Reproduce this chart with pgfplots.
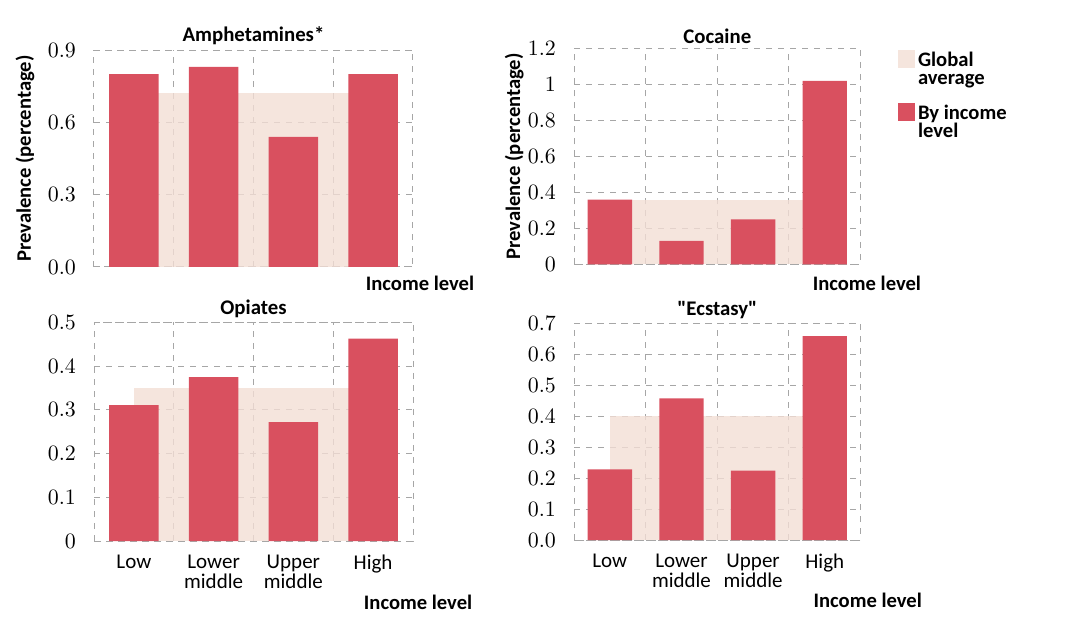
\documentclass[border=0pt]{standalone}
\usepackage{pgfplots}
\pgfplotsset{compat=1.18}
\usepackage{fontspec}
\setmainfont{Carlito}
\newfontfamily\rawfont{Carlito}
\definecolor{barred}{HTML}{D9505F}
\definecolor{band}{HTML}{F3DED5}
\definecolor{gridgray}{HTML}{A6A6A6}

\pgfplotsset{
  panel/.style={
    scale only axis,
    xmin=-0.5, xmax=3.5, ymin=0,
    xtick={0,1,2,3},
    minor xtick={0.5,1.5,2.5},
    xminorgrids, ymajorgrids,
    grid style={gridgray, dashed, line width=0.5pt},
    minor grid style={gridgray, dashed, line width=0.5pt},
    axis line style={gridgray, dashed, line width=0.5pt},
    major tick length=0pt, minor tick length=0pt,
    tick style={draw=none},
    every tick label/.append style={font=\fontsize{10.5}{10}\selectfont},
    yticklabel style={xshift=-5.5pt},
    xticklabel style={align=center, yshift=-3.5pt},
    title style={font=\bfseries\fontsize{10.4}{12}\selectfont, yshift=-7pt},
    label style={font=\bfseries\fontsize{10.3}{12}\selectfont},
    xlabel={Income level},
  },
  toprow/.style={xticklabels={}},
  botrow/.style={xticklabels={Low,Lower\\middle,Upper\\middle,High}},
}

\begin{document}
\begin{tikzpicture}
\useasboundingbox (0,0) rectangle (535pt,310.5pt);

% Amphetamines
\begin{axis}[panel, toprow,
  at={(47pt,177pt)}, anchor=south west, width=159.5pt, height=108.5pt,
  ymax=0.9, ytick={0,0.3,0.6,0.9},
  yticklabel style={/pgf/number format/.cd, fixed, fixed zerofill, precision=1},
  title={Amphetamines*},
  ylabel={Prevalence (percentage)},
  ylabel style={at={(rel axis cs:-0.216,0.5)}, anchor=center},
  xlabel style={at={(rel axis cs:1.022,0)}, anchor=center, yshift=-8pt},
]
\addplot[fill=band, fill opacity=0.8, draw=none] coordinates {(0,0.72) (3,0.72)} \closedcycle;
\addplot[ybar, bar width=0.62, fill=barred, draw=none] coordinates {(0,0.80) (1,0.83) (2,0.54) (3,0.80)};
\end{axis}

% Cocaine
\begin{axis}[panel, toprow,
  at={(287pt,178.3pt)}, anchor=south west, width=143.3pt, height=108pt,
  ymax=1.2, ytick={0,0.2,0.4,0.6,0.8,1,1.2},
  title={Cocaine},
  ylabel={Prevalence (percentage)},
  ylabel style={at={(rel axis cs:-0.209,0.5)}, anchor=center},
  xlabel style={at={(rel axis cs:1.022,0)}, anchor=center, yshift=-9.3pt},
  legend style={draw=none, fill=none, at={(rel axis cs:1,1)}, anchor=north west,
    xshift=15.5pt, yshift=2pt, row sep=5.5pt,
    font=\bfseries\fontsize{10.3}{9.3}\selectfont,
    nodes={align=left, inner sep=1.5pt},
    /tikz/every even column/.append style={column sep=1.2pt}},
  legend cell align=left,
  legend image code/.code={\path[#1, draw=none] (0pt,1pt) rectangle (8.5pt,10pt);},
]
\addplot[fill=band, fill opacity=0.8, draw=none] coordinates {(0,0.36) (3,0.36)} \closedcycle;
\addlegendentry{Global\\average}
\addplot[ybar, bar width=0.62, fill=barred, draw=none] coordinates {(0,0.36) (1,0.13) (2,0.25) (3,1.02)};
\addlegendentry{By income\\level}
\end{axis}

% Opiates
\begin{axis}[panel, botrow,
  at={(47pt,40pt)}, anchor=south west, width=159.5pt, height=109.3pt,
  ymax=0.5, ytick={0,0.1,0.2,0.3,0.4,0.5},
  title={Opiates},
  xlabel style={at={(rel axis cs:1.016,0)}, anchor=center, yshift=-30.9pt},
]
\addplot[fill=band, fill opacity=0.8, draw=none] coordinates {(0,0.351) (3,0.351)} \closedcycle;
\addplot[ybar, bar width=0.62, fill=barred, draw=none] coordinates {(0,0.311) (1,0.375) (2,0.272) (3,0.463)};
\end{axis}

% Ecstasy
\begin{axis}[panel, botrow,
  at={(287pt,40.5pt)}, anchor=south west, width=143.3pt, height=108.3pt,
  ymax=0.7, ytick={0,0.1,0.2,0.3,0.4,0.5,0.6,0.7},
  yticklabel style={/pgf/number format/.cd, fixed, fixed zerofill, precision=1},
  title={\rawfont\bfseries "Ecstasy"},
  xlabel style={at={(rel axis cs:1.025,0)}, anchor=center, yshift=-30pt},
]
\addplot[fill=band, fill opacity=0.8, draw=none] coordinates {(0,0.40) (3,0.40)} \closedcycle;
\addplot[ybar, bar width=0.62, fill=barred, draw=none] coordinates {(0,0.228) (1,0.458) (2,0.224) (3,0.659)};
\end{axis}
\end{tikzpicture}
\end{document}
